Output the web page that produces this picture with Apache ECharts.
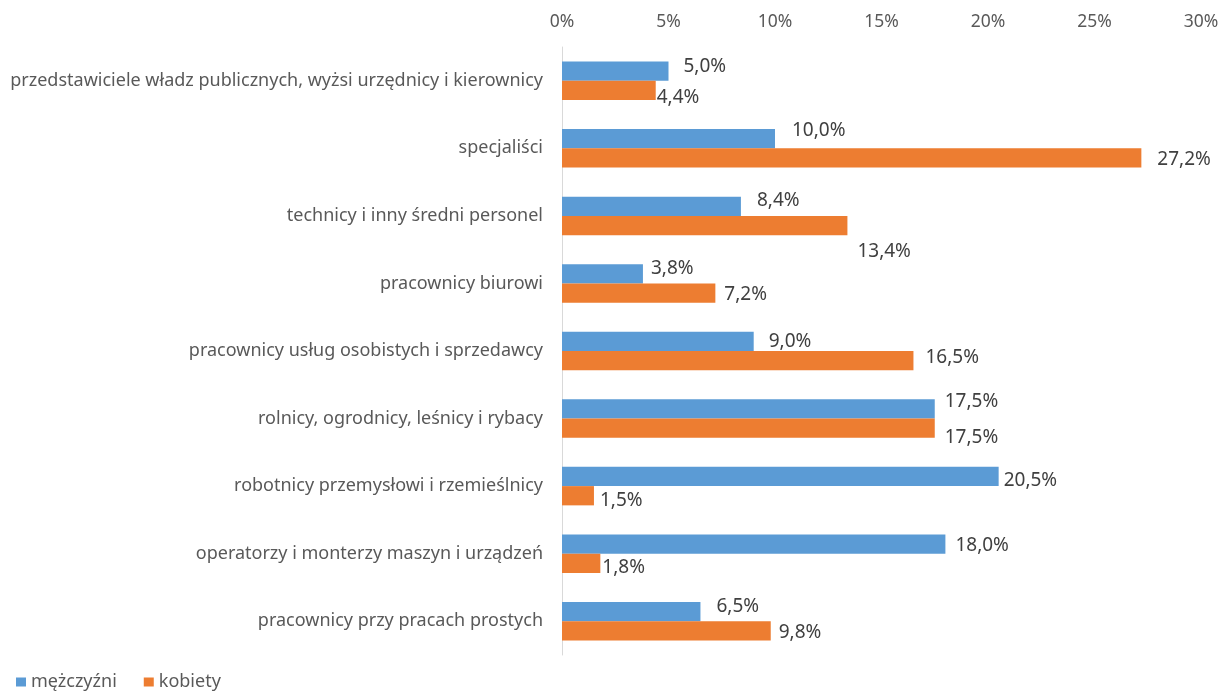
<!DOCTYPE html>
<html>
<head>
<meta charset="utf-8">
<script src="https://cdn.jsdelivr.net/npm/echarts@6/dist/echarts.min.js"></script>
<style>
  html, body { margin: 0; padding: 0; background: #fff; }
  #chart { width: 1231px; height: 692px; }
</style>
</head>
<body>
<div id="chart"></div>
<script>
// kategorie zawodowe (od góry)
const categories = [
    'przedstawiciele władz publicznych, wyżsi urzędnicy i kierownicy',
    'specjaliści',
    'technicy i inny średni personel',
    'pracownicy biurowi',
    'pracownicy usług osobistych i sprzedawcy',
    'rolnicy, ogrodnicy, leśnicy i rybacy',
    'robotnicy przemysłowi i rzemieślnicy',
    'operatorzy i monterzy maszyn i urządzeń',
    'pracownicy przy pracach prostych'
];
const menValues = [5.0, 10.0, 8.4, 3.8, 9.0, 17.5, 20.5, 18.0, 6.5];
const womenValues = [4.4, 27.2, 13.4, 7.2, 16.5, 17.5, 1.5, 1.8, 9.8];
const xTicks = [0, 5, 10, 15, 20, 25, 30];

// przesunięcia etykiet (ręcznie przesunięte jak w oryginale) [odstęp, dy]
const menLabelPos = [[15, -5], [17, -8], [16, -6], [8, -5], [15, 0], [10, -7], [5, 4], [10, 2], [16, -5]];
const womenLabelPos = [[1, 7], [16, 2], [10, 26], [9, 2], [12, -3], [10, 9], [6, 5], [2, 4], [8, 2]];

const FONT = '"Noto Sans", sans-serif';

function fmt(v) {
    return v.toFixed(1).replace('.', ',') + '%';
}

function buildData(values, pos) {
    return values.map(function (v, i) {
        return {
            value: v,
            label: { distance: pos[i][0], offset: [0, pos[i][1]] }
        };
    });
}

const chart = echarts.init(document.getElementById('chart'));

const labelStyle = {
    show: true,
    position: 'right',
    color: '#404040',
    fontSize: 19,
    fontFamily: FONT,
    formatter: function (p) { return fmt(p.value); }
};

const option = {
    animation: false,
    textStyle: { fontFamily: FONT },
    grid: {
        top: 47,
        bottom: 37,
        left: 562,
        right: 30,
        containLabel: false
    },
    legend: {
        data: ['mężczyźni', 'kobiety'],
        left: 16,
        top: 670,
        padding: 0,
        itemWidth: 10,
        itemHeight: 9,
        itemGap: 27,
        icon: 'rect',
        textStyle: { color: '#595959', fontSize: 18, fontFamily: FONT, lineHeight: 24 }
    },
    xAxis: {
        type: 'value',
        position: 'top',
        min: xTicks[0],
        max: xTicks[xTicks.length - 1],
        interval: 5,
        axisLine: { show: false },
        axisTick: { show: false },
        splitLine: { show: false },
        axisLabel: {
            color: '#595959',
            fontSize: 17.5,
            fontFamily: FONT,
            margin: 16,
            formatter: function (v) { return v + '%'; }
        }
    },
    yAxis: {
        type: 'category',
        inverse: true,
        data: categories,
        axisLine: { show: true, lineStyle: { color: '#d9d9d9', width: 1 } },
        axisTick: { show: false },
        axisLabel: {
            color: '#595959',
            fontSize: 18,
            fontFamily: FONT,
            margin: 19
        }
    },
    series: [
        {
            name: 'mężczyźni',
            type: 'bar',
            data: buildData(menValues, menLabelPos),
            barGap: 0,
            barCategoryGap: '43%',
            itemStyle: { color: '#5B9BD5' },
            label: labelStyle
        },
        {
            name: 'kobiety',
            type: 'bar',
            data: buildData(womenValues, womenLabelPos),
            barGap: 0,
            barCategoryGap: '43%',
            itemStyle: { color: '#ED7D31' },
            label: labelStyle
        }
    ]
};

chart.setOption(option);
</script>
</body>
</html>
